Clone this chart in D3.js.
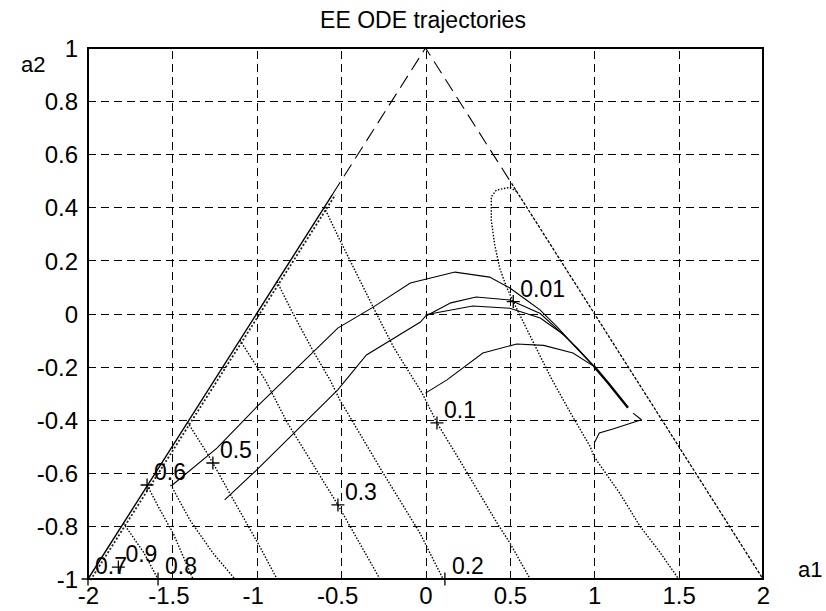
<!DOCTYPE html>
<html>
<head>
<meta charset="utf-8">
<script src="https://cdn.jsdelivr.net/npm/d3@7"></script>
<style>
  body { margin: 0; background: #fff; }
  text { font-family: "Liberation Sans", Arial, sans-serif; fill: #000; }
</style>
</head>
<body>
<script>
// tick values
const xTicks = [-2, -1.5, -1, -0.5, 0, 0.5, 1, 1.5, 2];
const yTicks = [-1, -0.8, -0.6, -0.4, -0.2, 0, 0.2, 0.4, 0.6, 0.8, 1];

// stability triangle edges [a1, a2]
const edgeLeftDense = [[-2, -1], [-0.55, 0.45]];
const edgeTopDashed = [[-0.55, 0.45], [0, 1], [0.51, 0.49]];
const edgeRight = [[0.51, 0.49], [1.0, 0.0], [1.5, -0.5], [2, -1]];

// dotted curves
const curve001 = [[0.54, 0.46], [0.5, 0.475], [0.42, 0.465], [0.39, 0.44], [0.39, 0.35], [0.41, 0.26], [0.44, 0.17], [0.48, 0.1], [0.52, 0.045], [0.64, -0.11], [0.75, -0.25], [0.86, -0.375], [0.975, -0.5], [1.0, -0.54], [1.15, -0.676], [1.27, -0.8], [1.39, -0.9], [1.5, -1.0]];
const curve01 = [[-0.6, 0.4], [-0.51, 0.28], [-0.31, 0.024], [-0.19, -0.126], [-0.02, -0.3], [0.068, -0.412], [0.2, -0.55], [0.424, -0.789], [0.5, -0.864], [0.62, -1.0]];
const curve02 = [[-0.88, 0.12], [-0.785, 0], [-0.667, -0.14], [-0.566, -0.25], [-0.507, -0.326], [-0.252, -0.6], [-0.033, -0.827], [0.104, -1]];
const curve03 = [[-1.1, -0.1], [-0.95, -0.25], [-0.82, -0.41], [-0.519, -0.721], [-0.27, -1.0]];
const curve05 = [[-1.41, -0.41], [-1.295, -0.525], [-1.26, -0.563], [-1.14, -0.7], [-0.98, -0.88], [-0.88, -1.0]];
const curve055 = [[-1.51, -0.645], [-1.396, -0.778], [-1.26, -0.902], [-1.13, -1.0]];
const curve06 = [[-1.65, -0.646], [-1.573, -0.74], [-1.496, -0.827], [-1.378, -1.0]];
const curve08 = [[-1.79, -0.79], [-1.67, -0.9], [-1.585, -1.0]];

// solid trajectories
const traj1 = [[-1.5, -0.646], [-1.236, -0.507], [-1.0, -0.352], [-0.52, -0.055], [-0.31, 0.024], [-0.09, 0.115], [0.175, 0.156], [0.38, 0.137], [0.5, 0.096], [0.6, 0.05], [0.68, 0.013], [0.78, -0.05], [0.88, -0.12], [1.0, -0.2]];
const traj2 = [[-1.19, -0.702], [-1.0, -0.589], [-0.52, -0.288], [-0.35, -0.156], [-0.03, -0.032], [0.0, -0.01], [0.15, 0.04], [0.3, 0.062], [0.5, 0.051], [0.68, 0.0], [0.8, -0.07], [0.9, -0.13], [1.0, -0.2]];
const traj3 = [[0.0, -0.005], [0.28, 0.028], [0.5, 0.02], [0.68, -0.017], [0.82, -0.08], [1.0, -0.2]];
const traj4 = [[0.0, -0.3], [0.127, -0.25], [0.34, -0.149], [0.54, -0.115], [0.7, -0.12], [0.874, -0.149], [1.0, -0.2]];
const trajTail = [[1.0, -0.2], [1.08, -0.26], [1.2, -0.355]];
const trajTip = [[1.23, -0.375], [1.28, -0.4]];
const traj5 = [[1.0, -0.488], [1.03, -0.45], [1.11, -0.435], [1.28, -0.4]];

// labelled '+' markers
const markA1 = [0.52, 0.068, 0.115, -0.519, -1.26, -1.65, -1.585, -1.82, -2];
const markA2 = [0.045, -0.412, -1.0, -0.721, -0.563, -0.646, -1.0, -0.955, -1];
const markLabels = ["0.01", "0.1", "0.2", "0.3", "0.5", "0.6", "0.8", "0.9", "0.7"];

const W = 826, H = 611;
const padLeft = 88, padRight = 763, padTop = 48, padBottom = 579;

const svg = d3.select('body').append('svg')
    .attr('width', W)
    .attr('height', H);

svg.append('rect').attr('width', W).attr('height', H).attr('fill', '#fff');

const x = d3.scaleLinear().domain([-2, 2]).range([padLeft, padRight]);
const y = d3.scaleLinear().domain([-1, 1]).range([padBottom, padTop]);

// axes with dashed grid
let xAxis = svg.append('g')
    .attr('transform', `translate(0,${padBottom})`)
    .call(d3.axisBottom(x).tickValues(xTicks).tickSize(-(padBottom - padTop)).tickPadding(8).tickFormat(d => String(d)));
let yAxis = svg.append('g')
    .attr('transform', `translate(${padLeft},0)`)
    .call(d3.axisLeft(y).tickValues(yTicks).tickSize(-(padRight - padLeft)).tickPadding(10).tickFormat(d => String(d)));

[xAxis, yAxis].forEach(g => {
    g.select('.domain').remove();
    g.selectAll('.tick line')
        .attr('stroke', '#000')
        .attr('stroke-width', 1)
        .attr('shape-rendering', 'crispEdges')
        .attr('stroke-dasharray', '8,5');
    g.selectAll('.tick text')
        .attr('font-size', 24)
        .attr('font-family', '"Liberation Sans", Arial, sans-serif')
        .attr('fill', '#000');
});
xAxis.selectAll('.tick text').attr('dx', d => (d < 0 && d > -2) ? -4 : 0);
yAxis.selectAll('.tick text').attr('dy', '0.36em');

// box
svg.append('rect')
    .attr('x', padLeft).attr('y', padTop)
    .attr('width', padRight - padLeft).attr('height', padBottom - padTop)
    .attr('fill', 'none')
    .attr('stroke', '#000')
    .attr('stroke-width', 2)
    .attr('shape-rendering', 'crispEdges');

const line = d3.line().x(d => x(d[0])).y(d => y(d[1]));

let plot = svg.append('g');

let draw = function(data, width, dash) {
    return plot.append('path')
        .datum(data)
        .attr('d', line)
        .attr('fill', 'none')
        .attr('stroke', '#000')
        .attr('stroke-width', width)
        .attr('stroke-dasharray', dash);
};

// triangle edges
draw(edgeLeftDense, 1.4, null);
draw(edgeLeftDense, 1.8, '2,2').attr('transform', 'translate(2.5,1)').attr('stroke', '#222');
draw(edgeTopDashed, 1.1, '14,7');
draw(edgeRight, 1.3, '3,1.5');

// dotted curves
[curve001, curve01, curve02, curve03, curve05, curve055, curve06, curve08]
    .forEach(c => draw(c, 1.4, '1.5,1.6'));

// trajectories
[traj1, traj2, traj3, traj4, traj5, trajTip].forEach(t => draw(t, 1.1, null));
draw(trajTail, 2.4, null);

// markers + labels
let marks = plot.selectAll('.mark')
    .data(markLabels)
    .enter()
    .append('g')
    .attr('class', 'mark')
    .attr('transform', (d, i) => `translate(${x(markA1[i])},${y(markA2[i])})`);

marks.append('path')
    .attr('d', 'M-6.5,0H6.5M0,-6.5V6.5')
    .attr('stroke', '#000')
    .attr('stroke-width', 1.3);

marks.append('text')
    .attr('x', 7)
    .attr('y', -5)
    .attr('font-size', 23)
    .text(d => d);

// title and axis labels
svg.append('text')
    .attr('x', 423).attr('y', 28)
    .attr('text-anchor', 'middle')
    .attr('font-size', 23)
    .text('EE ODE trajectories');

svg.append('text')
    .attr('x', 21).attr('y', 72)
    .attr('font-size', 22)
    .text('a2');

svg.append('text')
    .attr('x', 798).attr('y', 577)
    .attr('font-size', 22)
    .text('a1');
</script>
</body>
</html>
